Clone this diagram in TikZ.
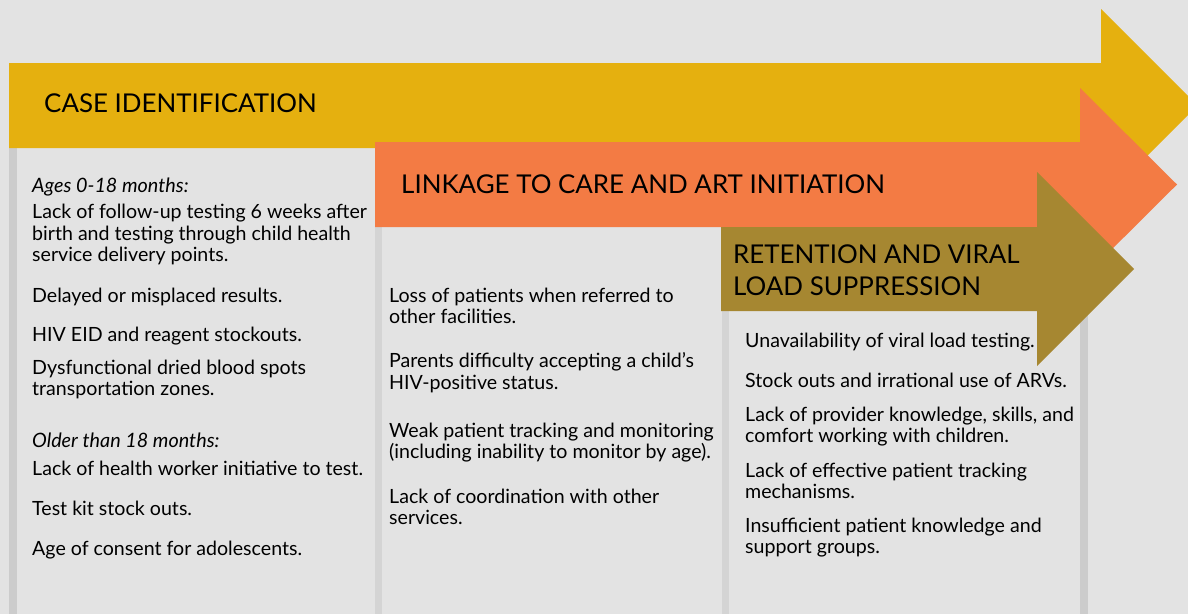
\documentclass[tikz,border=0pt]{standalone}
\usepackage{fontspec}
\setmainfont{Lato}
\definecolor{bgc}{RGB}{227,227,227}
\definecolor{stripo}{RGB}{204,204,204}
\definecolor{stripi}{RGB}{212,212,212}
\definecolor{yel}{RGB}{229,176,15}
\definecolor{ora}{RGB}{243,123,68}
\definecolor{oli}{RGB}{166,135,49}
\tikzset{
  body/.style={anchor=base west, inner sep=0pt, font=\fontsize{19.6}{22}\selectfont, text=black},
  sub/.style={body, font=\fontsize{19.8}{22}\selectfont\itshape},
  head/.style={anchor=base west, inner sep=0pt, font=\fontsize{25.9}{30}\selectfont, text=black},
}
\begin{document}
\begin{tikzpicture}[x=1pt,y=-1pt]
\useasboundingbox (0,0) rectangle (1188,614);
\clip (0,0) rectangle (1188,614);
\fill[bgc] (0,0) rectangle (1188,614);
% column strips
\fill[stripo] (9,148) rectangle (17,614);
\fill[stripi] (375,227) rectangle (382,614);
\fill[stripi] (722,311) rectangle (729,614);
\fill[stripo] (1080,311) rectangle (1088,614);
% arrows
\fill[yel] (9,63) -- (1101,63) -- (1101,9) -- (1197.5,105.5) -- (1101,202) -- (1101,148) -- (9,148) -- cycle;
\fill[ora] (375,142) -- (1080,142) -- (1080,88) -- (1177,184.5) -- (1080,281) -- (1080,227) -- (375,227) -- cycle;
\fill[oli] (721,227) -- (1037,227) -- (1037,172) -- (1134,269) -- (1037,366) -- (1037,311) -- (721,311) -- cycle;
% headers
\node[head] (h1) at (44,112) {CASE IDENTIFICATION};
\node[head] (h2) at (401,193) {LINKAGE TO CARE AND ART INITIATION};
\node[head] (h3a) at (733,263) {RETENTION AND VIRAL};
\node[head] (h3b) at (733,295) {LOAD SUPPRESSION};
% column 1
\node[sub] (c1a) at (32,192) {Ages 0-18 months:};
\node[body] (c1b) at (32,218) {Lack of follow-up testing 6 weeks after};
\node[body] (c1c) at (32,240) {birth and testing through child health};
\node[body] (c1d) at (32,261) {service delivery points.};
\node[body] (c1e) at (32,302) {Delayed or misplaced results.};
\node[body] (c1f) at (32,341) {HIV EID and reagent stockouts.};
\node[body] (c1g) at (32,374) {Dysfunctional dried blood spots};
\node[body] (c1h) at (32,395) {transportation zones.};
\node[sub] (c1i) at (32,447) {Older than 18 months:};
\node[body] (c1j) at (32,475) {Lack of health worker initiative to test.};
\node[body] (c1k) at (32,515) {Test kit stock outs.};
\node[body] (c1l) at (32,555) {Age of consent for adolescents.};
% column 2
\node[body] (c2a) at (389,302) {Loss of patients when referred to};
\node[body] (c2b) at (389,323) {other facilities.};
\node[body] (c2c) at (389,367) {Parents difficulty accepting a child’s};
\node[body] (c2d) at (389,389) {HIV-positive status.};
\node[body] (c2e) at (389,437) {Weak patient tracking and monitoring};
\node[body] (c2f) at (389,458) {(including inability to monitor by age).};
\node[body] (c2g) at (389,503) {Lack of coordination with other};
\node[body] (c2h) at (389,524) {services.};
% column 3
\node[body] (c3a) at (745,347) {Unavailability of viral load testing.};
\node[body] (c3b) at (745,387) {Stock outs and irrational use of ARVs.};
\node[body] (c3c) at (745,421) {Lack of provider knowledge, skills, and};
\node[body] (c3d) at (745,442) {comfort working with children.};
\node[body] (c3e) at (745,477) {Lack of effective patient tracking};
\node[body] (c3f) at (745,498) {mechanisms.};
\node[body] (c3g) at (745,532) {Insufficient patient knowledge and};
\node[body] (c3h) at (745,553) {support groups.};
\end{tikzpicture}
\end{document}
